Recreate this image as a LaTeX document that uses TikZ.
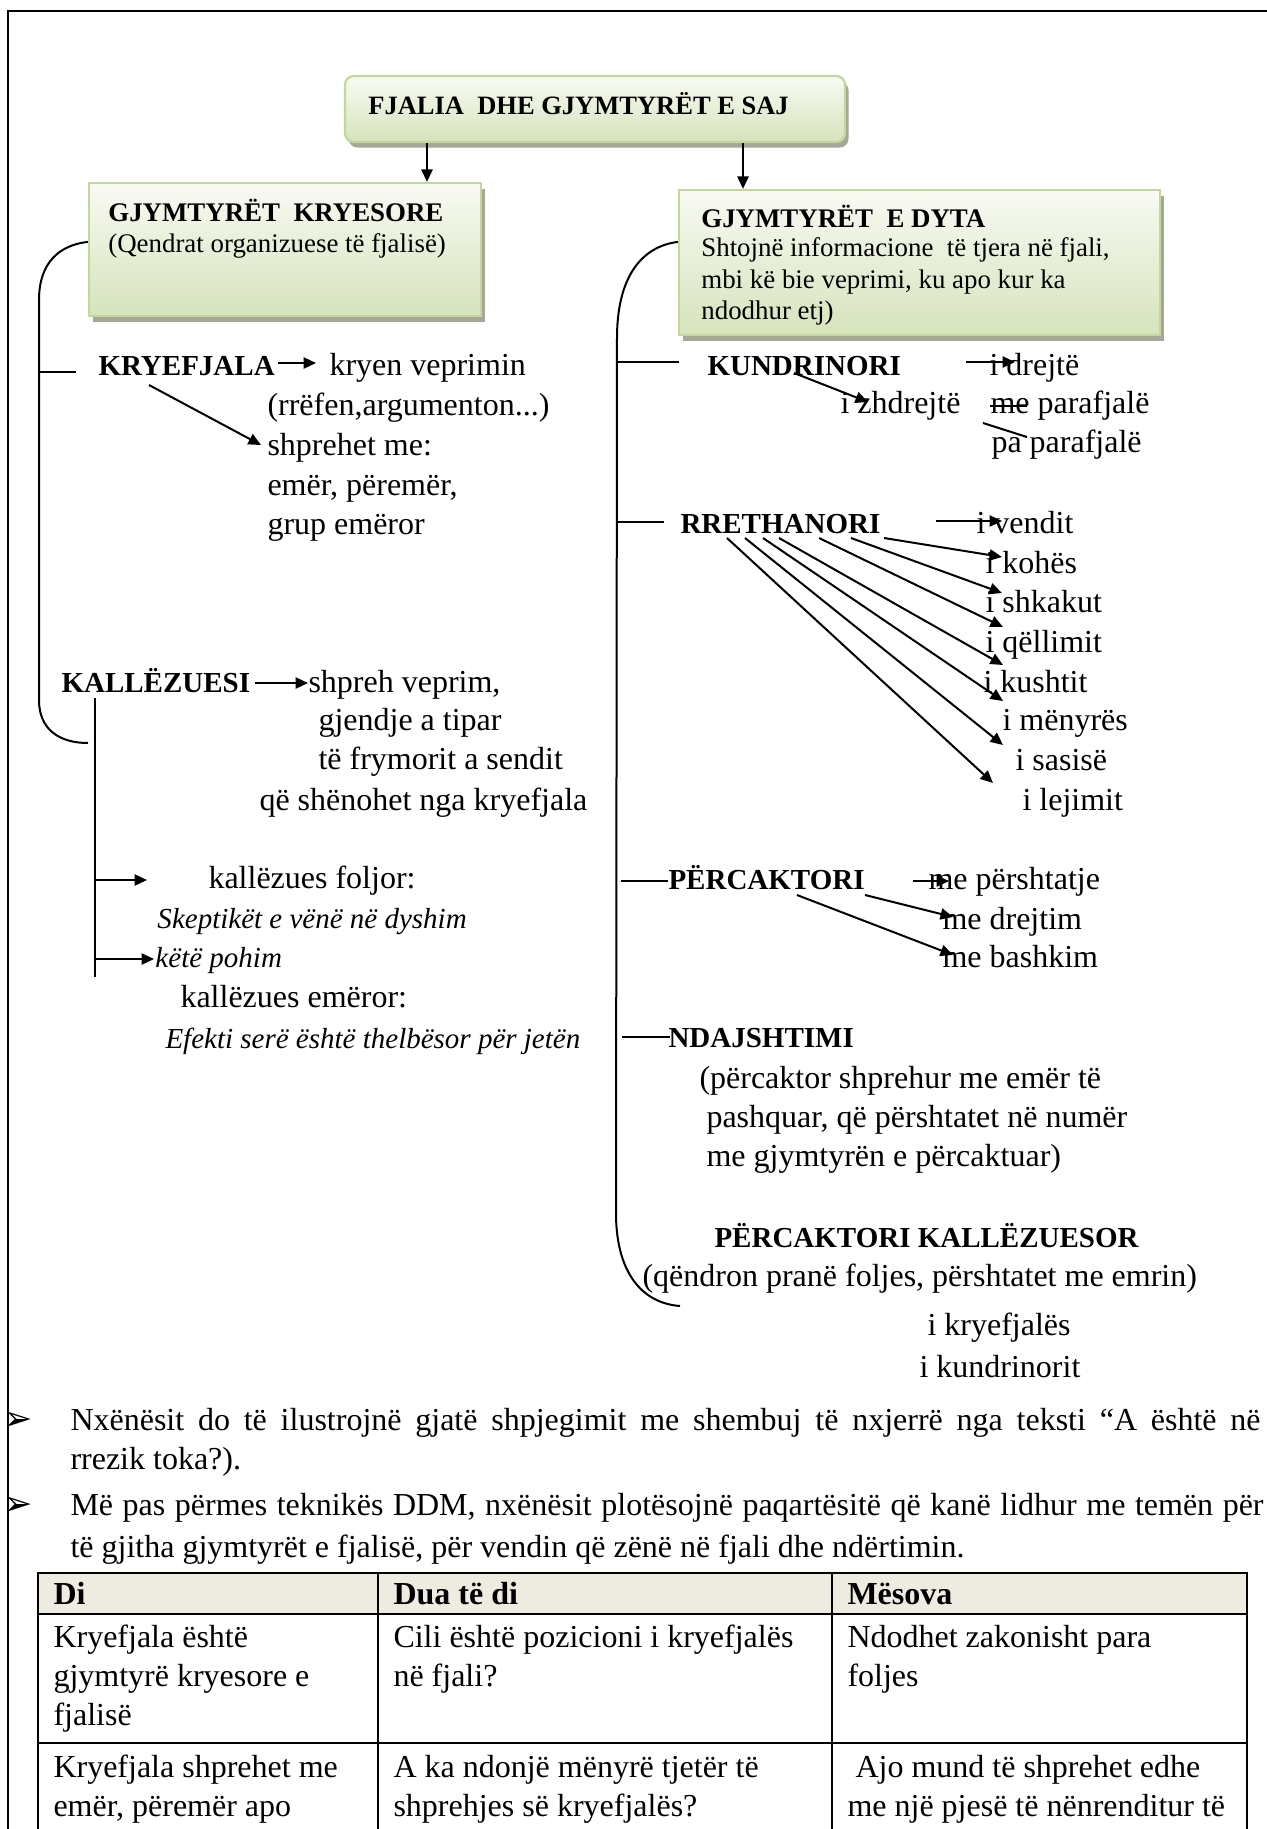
\documentclass[tikz,border=0pt]{standalone}
\usepackage{fontspec}
\setmainfont{Liberation Serif}
\newfontfamily\dingfont{DejaVu Sans}
\usetikzlibrary{arrows.meta,positioning,fit,calc,shadows}

\definecolor{boxtop}{RGB}{248,250,243}
\definecolor{boxbottom}{RGB}{214,227,188}
\definecolor{boxline}{RGB}{195,214,155}
\definecolor{boxshadow}{RGB}{165,168,150}
\definecolor{headfill}{RGB}{238,236,225}

\newcommand{\bodyfont}{\fontsize{12.8pt}{15.6pt}\selectfont}
\newcommand{\labelfont}{\fontsize{11.6pt}{14pt}\selectfont\bfseries}
\newcommand{\examplefont}{\fontsize{11.6pt}{14pt}\selectfont\itshape}
\newcommand{\boxfont}{\fontsize{10.75pt}{12.6pt}\selectfont}

\begin{document}
\begin{tikzpicture}[
  x=0.4pt, y=-0.4pt,
  txt/.style={anchor=base west, inner sep=0pt, font=\bodyfont, align=left},
  lbl/.style={anchor=base west, inner sep=0pt, font=\labelfont},
  ex/.style={anchor=base west, inner sep=0pt, font=\examplefont},
  boxtxt/.style={anchor=base west, inner sep=0pt, font=\boxfont, align=left},
  gbox/.style={draw=boxline, line width=0.9pt, top color=boxtop, bottom color=boxbottom, inner sep=0pt,
    drop shadow={shadow xshift=1.4pt, shadow yshift=-2.2pt, fill=boxshadow, opacity=1}},
  dingbullet/.style={anchor=center, inner sep=0pt, font=\dingfont\fontsize{14pt}{16pt}\selectfont},
  flow/.style={-{Triangle[length=5pt,width=4.5pt]}, line width=0.8pt},
  link/.style={line width=0.8pt},
  pageframe/.style={line width=1pt},
  cell/.style={line width=1pt}
]
\useasboundingbox (0,0) rectangle (1267,1829);
\draw[pageframe] (1267,11) -- (8,11) -- (8,1829);

% boxes
\node[gbox, rounded corners=3.5pt, fit={(345,76) (845,142)}] (fjalia) {};
\node[gbox, fit={(89,183) (481,316)}] (kryesore) {};
\node[gbox, fit={(679,190) (1160,335)}] (dyta) {};
\node[anchor=base west, inner sep=0pt, font=\fontsize{10.6pt}{12pt}\selectfont\bfseries] at ($(fjalia.north west)+(24,40)$) (titull) {FJALIA~~DHE GJYMTYRËT E SAJ};
\node[boxtxt, font=\boxfont\bfseries] at ($(kryesore.north west)+(20,40)$) (kryesore-h) {GJYMTYRËT~~KRYESORE};
\node[boxtxt] at ($(kryesore.north west)+(20,71)$) (kryesore-t) {(Qendrat organizuese të fjalisë)};
\node[boxtxt, font=\boxfont\bfseries] at ($(dyta.north west)+(23,39)$) (dyta-h) {GJYMTYRËT~~E DYTA};
% last line of the node sits on the given baseline
\node[boxtxt] at ($(dyta.north west)+(23,131)$) (dyta-t) {Shtojnë informacione~~të tjera në fjali,\\mbi kë bie veprimi, ku apo kur ka\\ndodhur etj)};

\coordinate (a-left) at (427,0);
\coordinate (a-right) at (743,0);
\draw[flow] (a-left |- fjalia.south) -- (a-left |- kryesore.north);
\draw[flow] (a-right |- fjalia.south) -- (a-right |- dyta.north);

% gjymtyret kryesore
\node[lbl] at (98,375) (kryefjala) {KRYEFJALA};
\node[txt] at (329,375) (kryen) {kryen veprimin};
\node[txt] at (267,415) (rrefen) {(rrëfen,argumenton...)};
\node[txt] at (267,455) (shprehet) {shprehet me:};
\node[txt] at (267,534) (emer) {emër, përemër,\\grup emëror};
\node[lbl] at (61,692) (kallezuesi) {KALLËZUESI};
\node[txt] at (308,692) (shpreh) {shpreh veprim,};
\node[txt] at (318,769) (gjendje) {gjendje a tipar\\të frymorit a sendit};
\node[txt] at (259,810) (shenohet) {që shënohet nga kryefjala};
\node[txt] at (208,888) (foljor) {kallëzues foljor:};
\node[ex] at (157,928) (skeptiket) {Skeptikët e vënë në dyshim};
\node[ex] at (155,967) (pohim) {këtë pohim};
\node[txt] at (180,1007) (emeror) {kallëzues emëror:};
\node[ex] at (165,1048) (efekti) {Efekti serë është thelbësor për jetën};

\coordinate (kl-end) at (88,743);
\draw[link] ($(kryesore.north west)+(0,60)$) .. controls (60,245) and (39,262) .. (39,300) -- (39,700) .. controls (39,730) and (60,743) .. (kl-end);
\draw[link] ($(kryefjala.base west)+(-59,-3)$) -- ($(kryefjala.base west)+(-22,-3)$);
\draw[flow] ($(kryefjala.base west)+(180,-12)$) -- ($(kryen.base west)+(-13,-12)$);
\draw[flow] ($(kryefjala.base west)+(51,10)$) -- ($(shprehet.base west)+(-6,-10)$);
\draw[flow] ($(kallezuesi.base west)+(194,-9)$) -- ($(shpreh.base west)+(0,-9)$);
\coordinate (kv-end) at (95,977);
\draw[link] ($(kallezuesi.base west)+(34,6)$) -- (kv-end);
\draw[flow] ($(foljor.base west)+(-113,-8)$) -- ($(foljor.base west)+(-61,-8)$);
\draw[flow] ($(pohim.base west)+(-60,-8)$) -- ($(pohim.base west)+(-1,-8)$);

% gjymtyret e dyta
\node[lbl] at (707,375) (kundrinori) {KUNDRINORI};
\node[txt] at (989,375) (drejte) {i drejtë};
\node[txt] at (840,413) (zhdrejte) {i zhdrejtë};
\node[txt] at (990,413) (meparafjale) {me parafjalë};
\node[txt] at (991,452) (paparafjale) {pa parafjalë};
\node[lbl] at (680,533) (rrethanori) {RRETHANORI};
\node[txt] at (976,533) (vendit) {i vendit};
\node[txt] at (985,573) (kohes) {i kohës};
\node[txt] at (985,612) (shkakut) {i shkakut};
\node[txt] at (985,652) (qellimit) {i qëllimit};
\node[txt] at (983,692) (kushtit) {i kushtit};
\node[txt] at (1002,730) (menyres) {i mënyrës};
\node[txt] at (1015,770) (sasise) {i sasisë};
\node[txt] at (1022,810) (lejimit) {i lejimit};
\node[lbl] at (668,889) (percaktori) {PËRCAKTORI};
\node[txt] at (928,889) (pershtatje) {me përshtatje};
\node[txt] at (942,929) (drejtim) {me drejtim};
\node[txt] at (942,967) (bashkim) {me bashkim};
\node[lbl] at (668,1047) (ndajshtimi) {NDAJSHTIMI};
\node[txt] at (699,1088) (ndaj-a) {(përcaktor shprehur me emër të};
\node[txt] at (706,1166) (ndaj-b) {pashquar, që përshtatet në numër\\me gjymtyrën e përcaktuar)};
\node[lbl] at (714,1247) (kallezuesor) {PËRCAKTORI KALLËZUESOR};
\node[txt] at (642,1286) (qendron) {(qëndron pranë foljes, përshtatet me emrin)};
\node[txt] at (927,1335) (ikryefjales) {i kryefjalës};
\node[txt] at (919,1377) (ikundrinorit) {i kundrinorit};

\coordinate (kr-end) at (680,1306);
\draw[link] ($(dyta.north west)+(0,53)$) .. controls (645,246) and (618,272) .. (617,335) -- (616,1213) .. controls (616,1270) and (640,1303) .. (kr-end);
\draw[link] ($(kundrinori.base west)+(-91,-13)$) -- ($(kundrinori.base west)+(-28,-13)$);
\draw[link] ($(rrethanori.base west)+(-64,-11)$) -- ($(rrethanori.base west)+(-16,-11)$);
\draw[link] ($(percaktori.base west)+(-47,-8)$) -- ($(percaktori.base west)+(0,-8)$);
\draw[link] ($(ndajshtimi.base west)+(-46,-10)$) -- ($(ndajshtimi.base west)+(2,-10)$);
\draw[flow] ($(kundrinori.base west)+(259,-13)$) -- ($(drejte.base west)+(26,-13)$);
\draw[flow] ($(kundrinori.base west)+(87,-2)$) -- ($(zhdrejte.base west)+(28,-11)$);
\draw[link] ($(meparafjale.base west)+(0,-7)$) -- ($(meparafjale.base west)+(37,-7)$);
\draw[link] ($(paparafjale.base west)+(-8,-29)$) -- ($(paparafjale.base west)+(36,-15)$);
\draw[flow] ($(rrethanori.base west)+(256,-12)$) -- ($(vendit.base west)+(26,-12)$);
\draw[flow] ($(rrethanori.base west)+(204,5)$) -- ($(kohes.base west)+(17,-16)$);
\draw[flow] ($(rrethanori.base west)+(171,5)$) -- ($(shkakut.base west)+(17,-19)$);
\draw[flow] ($(rrethanori.base west)+(139,5)$) -- ($(qellimit.base west)+(18,-25)$);
\draw[flow] ($(rrethanori.base west)+(99,5)$) -- ($(kushtit.base west)+(20,-27)$);
\draw[flow] ($(rrethanori.base west)+(83,5)$) -- ($(menyres.base west)+(1,-29)$);
\draw[flow] ($(rrethanori.base west)+(65,5)$) -- ($(sasise.base west)+(-12,-25)$);
\draw[flow] ($(rrethanori.base west)+(47,5)$) -- ($(lejimit.base west)+(-29,-27)$);
\draw[flow] ($(percaktori.base west)+(245,-8)$) -- ($(pershtatje.base west)+(21,-8)$);
\draw[flow] ($(percaktori.base west)+(197,6)$) -- ($(drejtim.base west)+(11,-12)$);
\draw[flow] ($(percaktori.base west)+(129,6)$) -- ($(bashkim.base west)+(11,-12)$);

% tekst poshte
\node[dingbullet] at (18,1421) (bullet-a) {➢};
\node[txt] at (70,1430) (para-a) {\makebox[476pt][s]{Nxënësit do të ilustrojnë gjatë shpjegimit me shembuj të nxjerrë nga teksti “A është në}};
\node[txt] at (70,1469) (para-a2) {rrezik toka?).};
\node[dingbullet] at (18,1506) (bullet-b) {➢};
\node[txt] at (70,1515) (para-b) {\makebox[477.2pt][s]{Më pas përmes teknikës DDM, nxënësit plotësojnë paqartësitë që kanë lidhur me temën për}};
\node[txt] at (70,1557) (para-b2) {të gjitha gjymtyrët e fjalisë, për vendin që zënë në fjali dhe ndërtimin.};

% tabela
\fill[headfill] (38,1573) rectangle (1247,1614);
\draw[cell] (38,1829) -- (38,1573) -- (1247,1573) -- (1247,1829);
\draw[cell] (38,1614) -- (1247,1614);
\draw[cell] (38,1743) -- (1247,1743);
\draw[cell] (378,1573) -- (378,1829);
\draw[cell] (832,1573) -- (832,1829);
\node[txt, font=\bodyfont\bfseries] at (53,1604) (h-di) {Di};
\node[txt, font=\bodyfont\bfseries] at (393,1604) (h-dua) {Dua të di};
\node[txt, font=\bodyfont\bfseries] at (847,1604) (h-mesova) {Mësova};
\node[txt] at (53,1725) (c11) {Kryefjala është\\gjymtyrë kryesore e\\fjalisë};
\node[txt] at (393,1686) (c12) {Cili është pozicioni i kryefjalës\\në fjali?};
\node[txt] at (847,1686) (c13) {Ndodhet zakonisht para\\foljes};
\node[txt] at (53,1816) (c21) {Kryefjala shprehet me\\emër, përemër apo};
\node[txt] at (393,1816) (c22) {A ka ndonjë mënyrë tjetër të\\shprehjes së kryefjalës?};
\node[txt] at (847,1816) (c23) {\ Ajo mund të shprehet edhe\\me një pjesë të nënrenditur të};
\end{tikzpicture}
\end{document}
